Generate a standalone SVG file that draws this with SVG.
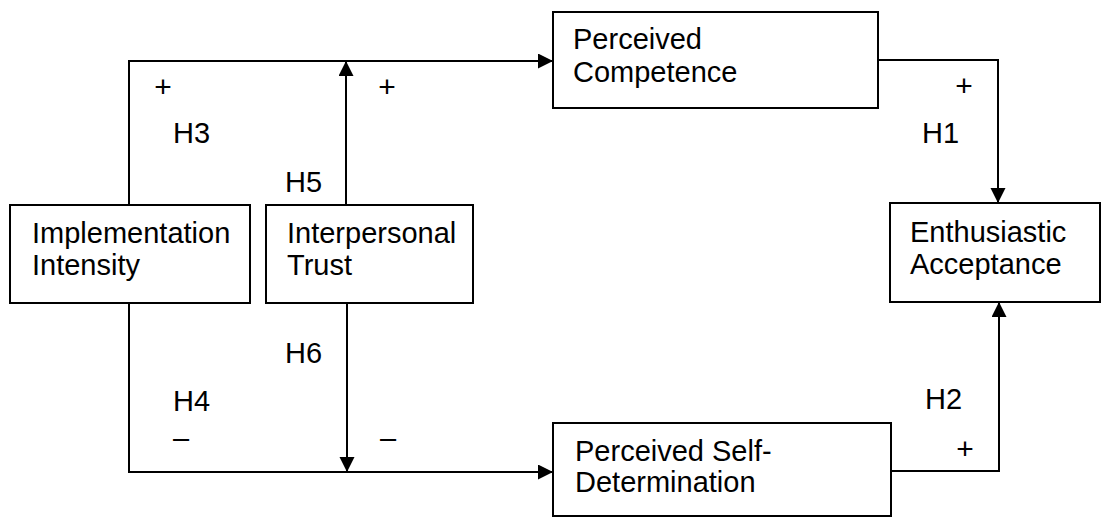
<svg xmlns="http://www.w3.org/2000/svg" width="1102" height="518" viewBox="0 0 1102 518">
<style>
.box{fill:#fff;stroke:#000;stroke-width:2}
.t{font-family:"Liberation Sans",Arial,sans-serif;font-size:29px;fill:#000}
.s{font-family:"Liberation Sans",Arial,sans-serif;font-size:30px;fill:#000;text-anchor:middle}
.c{fill:none;stroke:#000;stroke-width:2}
</style>
<defs>
<marker id="ah" markerUnits="userSpaceOnUse" markerWidth="16" markerHeight="16" refX="15" refY="7.5" orient="auto">
<path d="M0,0 L15,7.5 L0,15 z" fill="#000"/>
</marker>
</defs>
<rect width="1102" height="518" fill="#fff"/>
<g id="connectors">
<path class="c" d="M129,205 V61 H553" marker-end="url(#ah)"/>
<path class="c" d="M346,205 V61" marker-end="url(#ah)"/>
<path class="c" d="M129,303 V472 H553" marker-end="url(#ah)"/>
<path class="c" d="M347,303 V472" marker-end="url(#ah)"/>
<path class="c" d="M878,60 H998 V203" marker-end="url(#ah)"/>
<path class="c" d="M891,471 H999 V302" marker-end="url(#ah)"/>
</g>
<g id="labels">
<text class="s" x="163" y="97">+</text>
<text class="s" x="387" y="97">+</text>
<text class="s" x="964" y="96">+</text>
<text class="s" x="965" y="459">+</text>
<text class="t" x="173" y="448">–</text>
<text class="t" x="380" y="448">–</text>
<text class="t" x="173" y="143">H3</text>
<text class="t" x="285" y="192">H5</text>
<text class="t" x="285" y="363">H6</text>
<text class="t" x="173" y="411">H4</text>
<text class="t" x="922" y="143">H1</text>
<text class="t" x="925" y="409">H2</text>
</g>
<g id="implementation-intensity">
<rect class="box" x="10" y="205" width="240" height="98"/>
<text class="t" x="32" y="243">Implementation</text>
<text class="t" x="32" y="275">Intensity</text>
</g>
<g id="interpersonal-trust">
<rect class="box" x="266" y="205" width="207" height="98"/>
<text class="t" x="287" y="243">Interpersonal</text>
<text class="t" x="287" y="275">Trust</text>
</g>
<g id="perceived-competence">
<rect class="box" x="553" y="12" width="325" height="96"/>
<text class="t" x="573" y="49">Perceived</text>
<text class="t" x="573" y="82">Competence</text>
</g>
<g id="enthusiastic-acceptance">
<rect class="box" x="890" y="203" width="210" height="99"/>
<text class="t" x="910" y="242">Enthusiastic</text>
<text class="t" x="910" y="274">Acceptance</text>
</g>
<g id="perceived-self-determination">
<rect class="box" x="553" y="423" width="338" height="93"/>
<text class="t" x="575" y="461">Perceived Self-</text>
<text class="t" x="575" y="492">Determination</text>
</g>
</svg>
